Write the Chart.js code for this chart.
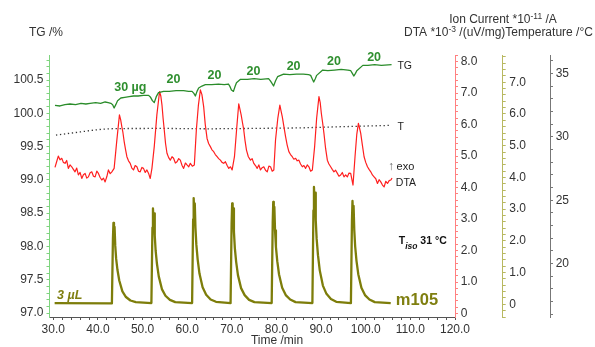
<!DOCTYPE html>
<html>
<head>
<meta charset="utf-8">
<script src="https://cdn.jsdelivr.net/npm/chart.js@4.4.0/dist/chart.umd.min.js"></script>
<style>
  html, body { margin: 0; padding: 0; background: #fff; }
</style>
</head>
<body>
<canvas id="chart" width="595" height="347"></canvas>
<script>
// time /min, TG /%
var tgCurve = [[30.38,100.12],[31.5,100.11],[32.6,100.13],[33.75,100.14],[35,100.13],[36.2,100.15],[37.3,100.14],
  [38.24,100.15],[39.5,100.16],[40.6,100.15],[41.61,100.17],[42.3,100.16],[42.9,100.15],[43.3,100.13],[43.63,100.08],
  [44.0,100.13],[44.4,100.19],[45.13,100.23],[46.0,100.24],[47.0,100.25],[47.97,100.26],[49.0,100.26],[50.2,100.27],
  [51.35,100.27],[51.8,100.24],[52.2,100.19],[52.62,100.16],[53.07,100.25],[53.58,100.31],[54.7,100.33],[56,100.33],
  [57.5,100.34],[59.2,100.34],[60.3,100.33],[61.09,100.33],[61.5,100.30],[61.83,100.26],[62.2,100.33],[62.57,100.38],
  [63.3,100.41],[64.07,100.43],[65.5,100.43],[67,100.44],[68.3,100.43],[69.24,100.44],[69.6,100.40],[69.91,100.35],
  [70.36,100.33],[70.7,100.40],[71.04,100.46],[71.94,100.51],[73.5,100.51],[75,100.52],[76.5,100.51],[78.23,100.52],
  [78.6,100.49],[78.9,100.46],[79.35,100.41],[79.8,100.49],[80.25,100.55],[81.6,100.59],[83,100.58],[84.5,100.59],
  [86,100.59],[87.2,100.58],[87.66,100.57],[88.0,100.52],[88.34,100.47],[88.7,100.52],[89.01,100.57],[90.36,100.65],
  [91.5,100.64],[93,100.65],[94.5,100.66],[96.0,100.65],[96.65,100.64],[97.0,100.60],[97.32,100.56],[97.7,100.60],
  [98.0,100.64],[99.35,100.72],[100.5,100.72],[102,100.73],[103.5,100.72],[105.79,100.73]];

// time /min, DTA *10^-3 uV/mg
var dtaCurve = [[30.38,4.64],[30.75,4.82],[31.12,5.00],[31.5,4.88],[31.89,4.93],[32.25,4.80],[32.63,4.77],[33.0,4.86],
  [33.37,4.61],[33.75,4.72],[34.13,4.66],[34.5,4.58],[34.87,4.50],[35.25,4.62],[35.62,4.40],[36.0,4.48],[36.38,4.29],
  [36.75,4.41],[37.12,4.45],[37.5,4.30],[37.86,4.34],[38.25,4.47],[38.62,4.50],[39.0,4.36],[39.37,4.34],[39.75,4.52],
  [40.11,4.45],[40.5,4.32],[40.87,4.24],[41.25,4.30],[41.61,4.18],[42.0,4.35],[42.35,4.56],[42.75,4.44],[43.12,4.50],
  [43.63,4.61],[44.2,5.45],[44.82,6.31],[45.1,6.15],[45.36,5.93],[45.6,5.75],[45.88,5.46],[46.2,5.20],[46.49,4.98],
  [46.85,4.85],[47.23,4.77],[47.6,4.62],[47.97,4.56],[48.35,4.70],[48.73,4.66],[49.1,4.52],[49.47,4.50],[49.85,4.64],
  [50.21,4.61],[50.6,4.48],[50.98,4.56],[51.35,4.45],[51.72,4.29],[52.10,4.61],[52.62,5.30],[53.2,6.30],[53.81,7.05],
  [54.1,6.90],[54.35,6.62],[54.6,6.20],[54.86,5.83],[55.15,5.40],[55.47,5.09],[55.85,4.95],[56.21,4.87],[56.6,4.98],
  [56.95,4.93],[57.35,4.78],[57.72,4.82],[58.1,4.92],[58.46,4.87],[58.85,4.70],[59.20,4.61],[59.6,4.78],[59.96,4.72],
  [60.35,4.66],[60.70,4.77],[61.15,4.68],[61.60,4.72],[62.05,5.83],[62.5,6.60],[62.95,7.10],[63.3,6.95],[63.69,6.57],
  [64.05,6.00],[64.45,5.56],[64.8,5.40],[65.19,5.30],[65.55,5.20],[65.94,5.14],[66.3,5.05],[66.70,4.98],[67.05,4.92],
  [67.44,4.87],[67.8,4.80],[68.18,4.77],[68.56,4.82],[68.95,4.70],[69.31,4.61],[69.7,4.66],[70.07,4.56],[70.59,4.98],
  [71.1,5.90],[71.55,6.66],[71.8,6.50],[72.09,6.31],[72.4,6.05],[72.67,5.83],[72.95,5.50],[73.28,5.19],[73.7,4.98],
  [74.18,4.87],[74.55,4.92],[74.92,4.77],[75.3,4.70],[75.68,4.61],[76.05,4.72],[76.42,4.56],[76.8,4.63],[77.16,4.66],
  [77.55,4.55],[77.93,4.50],[78.3,4.68],[78.67,4.66],[79.05,4.52],[79.41,4.56],[79.79,5.51],[80.3,6.20],[80.76,6.62],
  [81.0,6.45],[81.30,6.25],[81.65,5.95],[82.04,5.62],[82.4,5.35],[82.78,5.14],[83.15,5.05],[83.54,4.98],[83.9,4.90],
  [84.29,4.93],[84.65,4.85],[85.03,4.87],[85.4,4.75],[85.79,4.66],[86.15,4.70],[86.53,4.61],[86.9,4.72],[87.27,4.66],
  [87.65,4.52],[88.04,4.56],[88.55,5.30],[89.0,6.20],[89.52,6.89],[89.8,6.70],[90.05,6.36],[90.35,6.05],[90.64,5.72],
  [91.0,5.25],[91.40,4.87],[91.75,4.75],[92.14,4.66],[92.5,4.58],[92.88,4.50],[93.25,4.55],[93.65,4.45],[94.0,4.36],
  [94.39,4.40],[94.75,4.48],[95.13,4.34],[95.5,4.40],[95.89,4.34],[96.25,4.46],[96.63,4.45],[97.15,4.08],[97.60,4.98],
  [98.0,5.70],[98.36,6.04],[98.6,5.90],[98.88,5.72],[99.25,5.35],[99.63,4.98],[100.0,4.80],[100.39,4.66],[100.75,4.58],
  [101.13,4.50],[101.5,4.40],[101.87,4.34],[102.25,4.28],[102.63,4.13],[103.0,4.25],[103.37,4.18],[103.75,4.08],
  [104.12,4.02],[104.5,4.20],[104.88,4.13],[105.25,4.22],[105.62,4.24],[105.9,4.30]];

// time /min, ion current m105 *10^-11 A
var ionCurve = [[30.3,0.04],[43.13,0.03],
  [43.36,2.06],[43.48,2.57],[43.60,2.26],[43.73,2.44],[43.88,1.85],[44.08,1.44],[44.38,1.08],[44.78,0.75],[45.48,0.41],
  [46.28,0.23],[47.28,0.12],[48.48,0.07],[51.98,0.04],
  [52.21,2.42],[52.33,3.02],[52.45,2.66],[52.58,2.87],[52.73,2.17],[52.93,1.69],[53.23,1.27],[53.63,0.88],[54.33,0.48],
  [55.13,0.27],[56.13,0.14],[57.33,0.07],[61.10,0.04],
  [61.33,2.68],[61.45,3.35],[61.57,2.95],[61.70,3.18],[61.85,2.41],[62.05,1.88],[62.35,1.41],[62.75,0.97],[63.45,0.54],
  [64.25,0.30],[65.25,0.15],[66.45,0.08],[69.72,0.04],
  [69.95,2.54],[70.07,3.18],[70.19,2.80],[70.32,3.02],[70.47,2.29],[70.67,1.78],[70.97,1.34],[71.37,0.92],[72.07,0.51],
  [72.87,0.29],[73.87,0.14],[75.07,0.07],[78.93,0.04],
  [79.16,2.58],[79.28,3.23],[79.40,2.84],[79.53,3.07],[79.68,2.33],[79.88,1.81],[80.18,1.36],[80.58,0.94],[81.28,0.52],
  [82.08,0.29],[83.08,0.15],[84.28,0.07],[88.05,0.04],
  [88.28,2.96],[88.40,3.70],[88.52,3.26],[88.65,3.52],[88.80,2.66],[89.00,2.07],[89.30,1.55],[89.70,1.07],[90.40,0.59],
  [91.20,0.33],[92.20,0.17],[93.40,0.08],[96.68,0.04],
  [96.91,2.61],[97.03,3.26],[97.15,2.87],[97.28,3.10],[97.43,2.35],[97.63,1.83],[97.93,1.37],[98.33,0.95],[99.03,0.52],
  [99.83,0.29],[100.83,0.15],[102.03,0.07],[105.6,0.04]];

// time /min, temperature /°C
var tempCurve = [[30.6,30.13],[33,30.25],[36,30.38],[38.5,30.5],[41,30.6],[44,30.65],[55,30.66],[65,30.63],
  [75,30.66],[85,30.7],[95,30.8],[105.6,30.9]];

var sampleMasses = ['30 µg', '20', '20', '20', '20', '20', '20'];
var massLabelTimes = [47.25, 56.93, 66.1, 74.86, 83.84, 92.87, 101.88];
var massLabelTG = [100.39, 100.50, 100.56, 100.62, 100.70, 100.78, 100.84];

var FONT = "'Liberation Sans', Arial, sans-serif";

function toPoints(list) {
  return list.map(function(p) { return {x: p[0], y: p[1]}; });
}

// one tick every `step` between the axis limits
function stepTicks(step) {
  return function(scale) {
    var out = [];
    var k0 = Math.ceil(scale.min / step - 1e-9), k1 = Math.floor(scale.max / step + 1e-9);
    for (var k = k0; k <= k1; k++) out.push({ value: Math.round(k * step * 1000) / 1000 });
    scale.ticks = out;
  };
}

function every(step, decimals, zeroText) {
  return function(v) {
    var r = v / step;
    if (Math.abs(r - Math.round(r)) > 1e-6) return '';
    if (Math.abs(v) < 1e-9 && zeroText) return zeroText;
    return v.toFixed(decimals);
  };
}

function yAxis(pos, min, max, step, labelStep, decimals, color, width, pad) {
  return {
    type: 'linear',
    position: pos,
    min: min,
    max: max,
    grid: { drawOnChartArea: false, drawTicks: true, tickLength: 3, color: color },
    border: { display: true, color: color, width: 1 },
    ticks: {
      autoSkip: false,
      padding: pad,
      color: '#333',
      font: { family: FONT, size: 12 },
      callback: every(labelStep, decimals, '0')
    },
    afterBuildTicks: stepTicks(step),
    afterFit: function(scale) { scale.width = width; }
  };
}

// draws a row of text pieces [text, font, dy]
function runs(ctx, x, y, parts, align) {
  var total = 0;
  parts.forEach(function(p) { ctx.font = p[1]; total += ctx.measureText(p[0]).width; });
  var cx = align === 'center' ? x - total / 2 : x;
  ctx.textAlign = 'left';
  ctx.textBaseline = 'middle';
  parts.forEach(function(p) {
    ctx.font = p[1];
    ctx.fillText(p[0], cx, y + (p[2] || 0));
    cx += ctx.measureText(p[0]).width;
  });
}

var labelPlugin = {
  id: 'labels',
  afterDraw: function(chart) {
    var ctx = chart.ctx, s = chart.scales;
    ctx.save();

    // axis titles
    ctx.fillStyle = '#333';
    runs(ctx, 29, 33, [['TG /%', '12px ' + FONT]], 'left');
    runs(ctx, 503, 20, [['Ion Current *10', '12px ' + FONT], ['-11', '8.5px ' + FONT, -3], [' /A', '12px ' + FONT]], 'center');
    runs(ctx, 404, 33, [['DTA *10', '12px ' + FONT], ['-3', '8.5px ' + FONT, -3],
      [' /(uV/mg)Temperature /°C', '12px ' + FONT]], 'left');
    runs(ctx, 277, 341, [['Time /min', '12px ' + FONT]], 'center');

    // sample masses on the TG curve
    ctx.fillStyle = '#2f8f2f';
    sampleMasses.forEach(function(txt, i) {
      runs(ctx, s.x.getPixelForValue(massLabelTimes[i]), s.yTG.getPixelForValue(massLabelTG[i]),
        [[txt, 'bold 12.5px ' + FONT]], 'center');
    });

    // curve names
    ctx.fillStyle = '#222';
    runs(ctx, s.x.getPixelForValue(107.1), s.yTG.getPixelForValue(100.71), [['TG', '10.5px ' + FONT]], 'left');
    runs(ctx, s.x.getPixelForValue(107.1), s.yT.getPixelForValue(30.79), [['T', '10.5px ' + FONT]], 'left');
    runs(ctx, s.x.getPixelForValue(106.75), s.yDTA.getPixelForValue(4.15), [['DTA', '10.5px ' + FONT]], 'left');
    ctx.fillStyle = '#666';
    runs(ctx, s.x.getPixelForValue(105.0), s.yDTA.getPixelForValue(4.66), [['↑', '12px ' + FONT]], 'left');
    ctx.fillStyle = '#222';
    runs(ctx, s.x.getPixelForValue(106.9), s.yDTA.getPixelForValue(4.66), [['exo', '11px ' + FONT]], 'left');

    ctx.fillStyle = '#111';
    runs(ctx, s.x.getPixelForValue(107.4), s.yIon.getPixelForValue(1.99),
      [['T', 'bold 10.5px ' + FONT], ['iso', 'italic bold 8.5px ' + FONT, 5], [' 31 °C', 'bold 10.5px ' + FONT]], 'left');

    ctx.fillStyle = '#7f7f10';
    runs(ctx, s.x.getPixelForValue(106.75), s.yIon.getPixelForValue(0.13), [['m105', 'bold 16.5px ' + FONT]], 'left');
    runs(ctx, s.x.getPixelForValue(30.83), s.yIon.getPixelForValue(0.28), [['3 µL', 'italic bold 12.5px ' + FONT]], 'left');

    ctx.restore();
  }
};

new Chart(document.getElementById('chart').getContext('2d'), {
  type: 'line',
  data: {
    datasets: [
      { label: 'TG', data: toPoints(tgCurve), yAxisID: 'yTG', borderColor: '#2a8c2a', borderWidth: 1.3, order: 0 },
      { label: 'DTA', data: toPoints(dtaCurve), yAxisID: 'yDTA', borderColor: '#ff1f1f', borderWidth: 1.2, order: 1 },
      { label: 'T', data: toPoints(tempCurve), yAxisID: 'yT', borderColor: '#333', borderWidth: 1.3,
        borderDash: [1.3, 2.7], order: 2 },
      { label: 'm105', data: toPoints(ionCurve), yAxisID: 'yIon', borderColor: '#7d7d0a', borderWidth: 2.3, order: 3 }
    ]
  },
  options: {
    responsive: false,
    animation: false,
    layout: { padding: { top: 55, left: 0, right: 0, bottom: 0 } },
    elements: {
      point: { radius: 0 },
      line: { tension: 0, fill: false, borderJoinStyle: 'round' }
    },
    plugins: { legend: { display: false }, tooltip: { enabled: false } },
    scales: {
      x: {
        type: 'linear',
        position: 'bottom',
        min: 29.15,
        max: 120,
        grid: { drawOnChartArea: false, drawTicks: true, tickLength: 3, color: '#555' },
        border: { display: true, color: '#555', width: 1 },
        ticks: {
          autoSkip: false,
          maxRotation: 0,
          padding: 2,
          color: '#333',
          font: { family: FONT, size: 12 },
          callback: every(10, 1)
        },
        afterBuildTicks: stepTicks(2),
        afterFit: function(scale) { scale.height = 30; }
      },
      yTG: yAxis('left', 96.94, 100.876, 0.1, 0.5, 1, '#7fd47f', 49.5, 3),
      yDTA: yAxis('right', -0.11, 8.21, 0.2, 1, 1, '#ff8080', 47.7, 2.7),
      yIon: yAxis('right', -0.40, 7.86, 0.2, 1, 1, '#b8b860', 47.3, 3.6),
      yT: yAxis('right', 15.79, 36.45, 1, 5, 0, '#777', 45, 2.7)
    }
  },
  plugins: [labelPlugin]
});
</script>
</body>
</html>
